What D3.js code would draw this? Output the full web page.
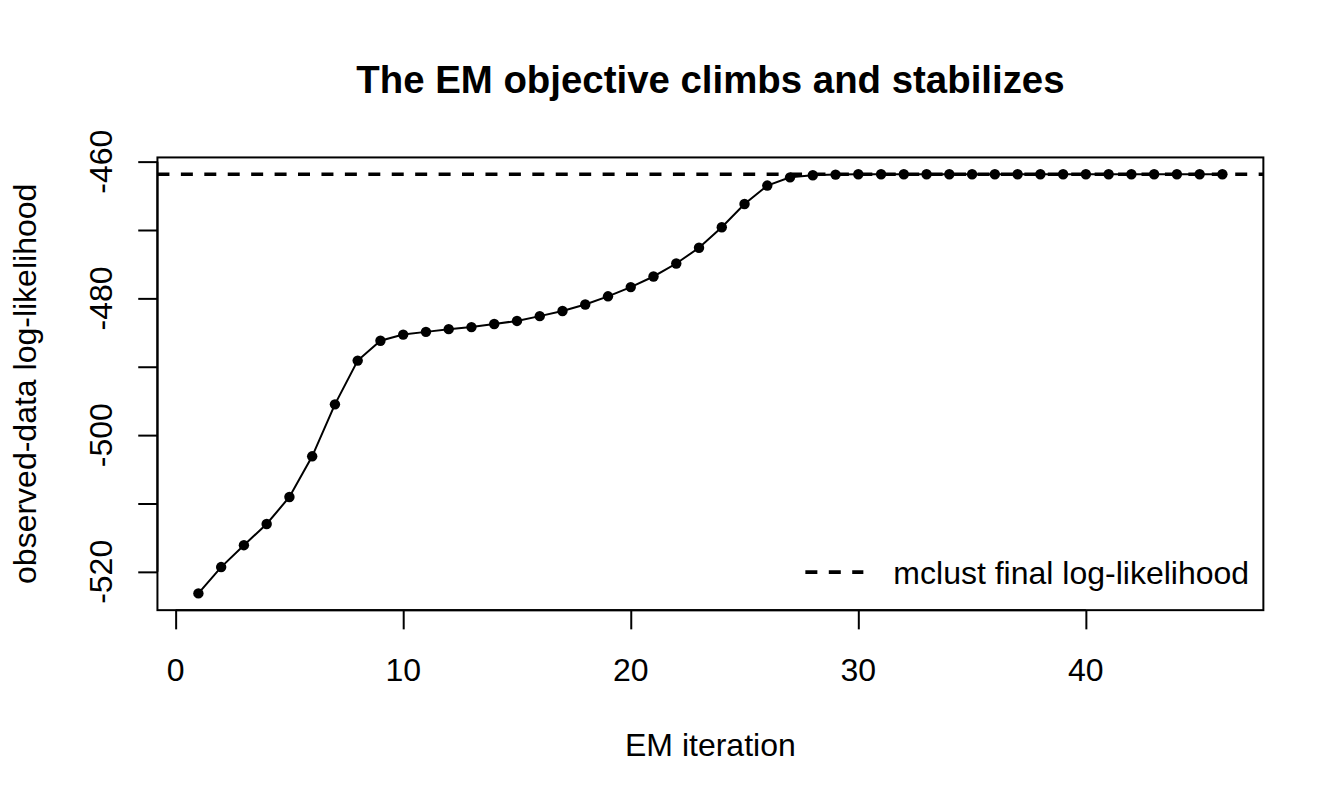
<!DOCTYPE html>
<html>
<head>
<meta charset="utf-8">
<title>The EM objective climbs and stabilizes</title>
<script src="https://cdn.jsdelivr.net/npm/d3@7/dist/d3.min.js"></script>
<style>
  html, body { margin: 0; padding: 0; background: #fff; }
  svg { display: block; font-family: "Liberation Sans", Arial, Helvetica, sans-serif; }
  .tick-label, .axis-label, .legend-label { font-size: 32px; fill: #000; }
  .title { font-size: 38.4px; font-weight: bold; fill: #000; }
</style>
</head>
<body>
<svg id="chart"></svg>
<script>
// EM log-likelihood trace, one value per iteration
const iterations = d3.range(1, 47);
const logLik = [
  -523.15, -519.3, -516.1, -513.0, -509.05, -503.1, -495.5, -489.1, -486.2, -485.3,
  -484.9, -484.5, -484.2, -483.75, -483.3, -482.6, -481.85, -480.9, -479.7, -478.35,
  -476.8, -474.9, -472.6, -469.6, -466.2, -463.5, -462.3, -462.0, -461.9, -461.85,
  -461.85, -461.85, -461.85, -461.85, -461.85, -461.85, -461.85, -461.85, -461.85, -461.85,
  -461.85, -461.85, -461.85, -461.85, -461.85, -461.85
];
const mclustFinal = -461.84;

const xTicks = [0, 10, 20, 30, 40];
const yTicks = [-520, -510, -500, -490, -480, -470, -460];
const yTickLabels = [-520, -500, -480, -460];

const titleText = 'The EM objective climbs and stabilizes';
const xLabelText = 'EM iteration';
const yLabelText = 'observed-data log-likelihood';
const legendText = 'mclust final log-likelihood';

// R-like layout: 1 margin line = 38.4px
const W = 1344, H = 806;
const LINE = 38.4;
const MARGIN = { top: 4.1 * LINE, right: 2.1 * LINE, bottom: 5.1 * LINE, left: 4.1 * LINE };
const PLOT_W = W - MARGIN.left - MARGIN.right;
const PLOT_H = H - MARGIN.top - MARGIN.bottom;
const DASH = '12,11.43';
const DASH_W = 3.6;

const svg = d3.select('#chart')
  .attr('width', W)
  .attr('height', H)
  .attr('viewBox', `0 0 ${W} ${H}`);

const g = svg.append('g')
  .attr('transform', `translate(${MARGIN.left},${MARGIN.top})`);

// 4% padding like R's default axis extension
function padded(ext) {
  const d = (ext[1] - ext[0]) * 0.04;
  return [ext[0] - d, ext[1] + d];
}

const xScale = d3.scaleLinear()
  .domain(padded(d3.extent(iterations)))
  .range([0, PLOT_W]);

const yScale = d3.scaleLinear()
  .domain(padded(d3.extent(logLik.concat([mclustFinal]))))
  .range([PLOT_H, 0]);

// Axes (custom-styled to look like base R graphics)
const xAxis = d3.axisBottom(xScale)
  .tickValues(xTicks)
  .tickSize(0.5 * LINE)
  .tickPadding(0)
  .tickFormat('');

const yAxis = d3.axisLeft(yScale)
  .tickValues(yTicks)
  .tickSize(0.5 * LINE)
  .tickFormat('');

const xAxisG = g.append('g')
  .attr('class', 'x-axis')
  .attr('transform', `translate(0,${PLOT_H})`)
  .call(xAxis);

const yAxisG = g.append('g')
  .attr('class', 'y-axis')
  .call(yAxis);

// R axis line only spans first to last tick
xAxisG.select('.domain').remove();
yAxisG.select('.domain').remove();
xAxisG.append('line')
  .attr('x1', xScale(xTicks[0])).attr('x2', xScale(xTicks[xTicks.length - 1]))
  .attr('y1', 0).attr('y2', 0);
yAxisG.append('line')
  .attr('y1', yScale(yTicks[0])).attr('y2', yScale(yTicks[yTicks.length - 1]))
  .attr('x1', 0).attr('x2', 0);

[xAxisG, yAxisG].forEach(a => {
  a.selectAll('line').attr('stroke', '#000').attr('stroke-width', 2);
});

// Tick labels
g.selectAll('text.x-tick')
  .data(xTicks)
  .enter()
  .append('text')
  .attr('class', 'tick-label x-tick')
  .attr('x', d => xScale(d))
  .attr('y', PLOT_H + 71)
  .attr('text-anchor', 'middle')
  .text(d => d);

g.selectAll('text.y-tick')
  .data(yTickLabels)
  .enter()
  .append('text')
  .attr('class', 'tick-label y-tick')
  .attr('transform', d => `translate(${-45},${yScale(d)}) rotate(-90)`)
  .attr('text-anchor', 'middle')
  .text(d => d);

// Axis titles and main title
g.append('text')
  .attr('class', 'axis-label')
  .attr('x', PLOT_W / 2)
  .attr('y', PLOT_H + 146)
  .attr('text-anchor', 'middle')
  .text(xLabelText);

g.append('text')
  .attr('class', 'axis-label')
  .attr('transform', `translate(${-121},${PLOT_H / 2}) rotate(-90)`)
  .attr('text-anchor', 'middle')
  .text(yLabelText);

g.append('text')
  .attr('class', 'title')
  .attr('x', PLOT_W / 2)
  .attr('y', -64)
  .attr('text-anchor', 'middle')
  .text(titleText);

// Clip to plot region for reference line
g.append('clipPath')
  .attr('id', 'plot-clip')
  .append('rect')
  .attr('width', PLOT_W)
  .attr('height', PLOT_H);

const plotArea = g.append('g').attr('clip-path', 'url(#plot-clip)');

// Series line and points
const line = d3.line()
  .x((d, i) => xScale(iterations[i]))
  .y(d => yScale(d));

plotArea.append('path')
  .datum(logLik)
  .attr('fill', 'none')
  .attr('stroke', '#000')
  .attr('stroke-width', 2)
  .attr('d', line);

plotArea.selectAll('circle.pt')
  .data(logLik)
  .enter()
  .append('circle')
  .attr('class', 'pt')
  .attr('cx', (d, i) => xScale(iterations[i]))
  .attr('cy', d => yScale(d))
  .attr('r', 5.2)
  .attr('fill', '#000');

// Final log-likelihood reference (abline h=...)
plotArea.append('line')
  .attr('x1', 0)
  .attr('x2', PLOT_W)
  .attr('y1', yScale(mclustFinal))
  .attr('y2', yScale(mclustFinal))
  .attr('stroke', '#000')
  .attr('stroke-width', DASH_W)
  .attr('stroke-dasharray', DASH);

// Plot box
g.append('rect')
  .attr('width', PLOT_W)
  .attr('height', PLOT_H)
  .attr('fill', 'none')
  .attr('stroke', '#000')
  .attr('stroke-width', 2);

// Legend (bottomright, no box)
const legend = g.append('g')
  .attr('transform', `translate(${PLOT_W - 458},${PLOT_H - 38})`);

legend.append('line')
  .attr('x1', 0)
  .attr('x2', 58)
  .attr('y1', 0)
  .attr('y2', 0)
  .attr('stroke', '#000')
  .attr('stroke-width', DASH_W)
  .attr('stroke-dasharray', DASH);

legend.append('text')
  .attr('class', 'legend-label')
  .attr('x', 88)
  .attr('y', 11.5)
  .text(legendText);
</script>
</body>
</html>
